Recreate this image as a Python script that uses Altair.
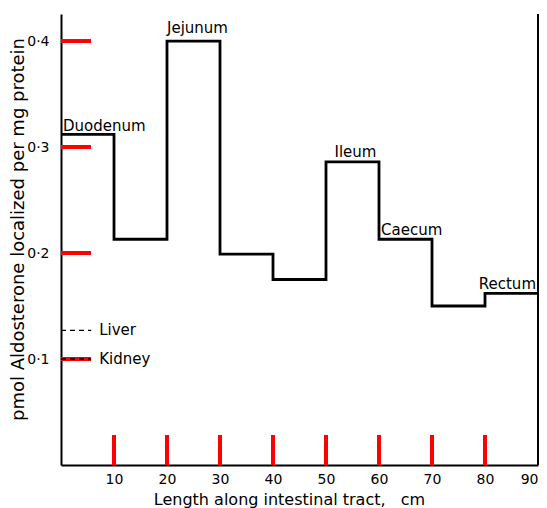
import altair as alt
import pandas as pd

# ---- data ----
segment_start = [0, 10, 20, 30, 40, 50, 60, 70, 80]
segment_end = [10, 20, 30, 40, 50, 60, 70, 80, 90]
segment_value = [0.312, 0.213, 0.400, 0.199, 0.175, 0.286, 0.213, 0.150, 0.162]

label_name = ["Duodenum", "Jejunum", "Ileum", "Caecum", "Rectum"]
label_segment = [0, 2, 5, 6, 8]

reference_name = ["Liver", "Kidney"]
reference_value = [0.127, 0.100]

x_ticks = [10, 20, 30, 40, 50, 60, 70, 80, 90]
y_ticks = [0.1, 0.2, 0.3, 0.4]

# ---- layout / style settings ----
W, H = 477, 451
X_MAX = 90
Y_MAX = 0.4255
FONT = "DejaVu Sans"
NB = "\u00a0"
label_anchor = ["start", "start", "center", "start", "end"]
label_align = ["left", "left", "center", "left", "right"]
label_dx = [2, 0, 3, 2, -2]
label_dy = [-3, -8, -5, -4, -4]
ref_len = 5.7
TICK_PX_Y = 30
TICK_PX_X = 30

step_df = pd.DataFrame({
    "x": segment_start + [segment_end[-1]],
    "y": segment_value + [segment_value[-1]],
})

lab_rows = []
for name, seg, anc, al, dx, dy in zip(label_name, label_segment, label_anchor,
                                      label_align, label_dx, label_dy):
    s, e, v = segment_start[seg], segment_end[seg], segment_value[seg]
    xpos = s if anc == "start" else (e if anc == "end" else (s + e) / 2)
    lab_rows.append({"name": name, "x": xpos, "y": v, "align": al, "dx": dx, "dy": dy})

ref_df = pd.DataFrame({"name": reference_name, "yv": reference_value,
                       "x0": [0.0] * 2, "x1": [ref_len] * 2})
ytick_df = pd.DataFrame({"yv": y_ticks, "x0": [0.0] * 4,
                         "x1": [TICK_PX_Y * X_MAX / W] * 4})
xtick_df = pd.DataFrame({"xv": x_ticks[:-1], "y0": [0.0] * 8,
                         "y1": [TICK_PX_X * Y_MAX / H] * 8})
frame_df = pd.DataFrame({"xv": [X_MAX], "y0": [0.0], "y1": [Y_MAX]})

xs = alt.Scale(domain=[0, X_MAX], nice=False, zero=True)
ys = alt.Scale(domain=[0, Y_MAX], nice=False, zero=True)

X_AXIS = alt.Axis(
    values=x_ticks,
    title="Length along intestinal tract," + NB * 3 + "cm",
    ticks=False, grid=False, labelPadding=7,
    domainColor="black", domainWidth=2, labelFont=FONT, labelFontSize=14,
    labelColor="black", titleFont=FONT, titleFontSize=16,
    titleFontWeight="normal", titleColor="black",
    titleY=39, titleX=228, titleBaseline="alphabetic")
Y_AXIS = alt.Axis(
    values=y_ticks, title="pmol Aldosterone localized per mg protein",
    labelExpr="replace(format(datum.value, '.1f'), '.', '·')",
    ticks=False, grid=False, labelPadding=12, domainColor="black",
    domainWidth=2, labelFont=FONT, labelFontSize=14, labelColor="black",
    titleFont=FONT, titleFontSize=18, titleFontWeight="normal",
    titleColor="black", titleX=-43, titleY=215, titleBaseline="middle")


def X(f):
    return alt.X(f + ":Q", scale=xs, axis=None)


def Y(f):
    return alt.Y(f + ":Q", scale=ys, axis=None)


step = alt.Chart(step_df).mark_line(
    interpolate="step-after", color="black", strokeWidth=2.8, strokeJoin="miter"
).encode(x=alt.X("x:Q", scale=xs, axis=X_AXIS),
         y=alt.Y("y:Q", scale=ys, axis=Y_AXIS))

frame = alt.Chart(frame_df).mark_rule(color="black", strokeWidth=2).encode(
    x=X("xv"), y=Y("y0"), y2="y1:Q")

yt = alt.Chart(ytick_df).mark_rule(color="red", strokeWidth=4).encode(
    x=X("x0"), x2="x1:Q", y=Y("yv"))

xt = alt.Chart(xtick_df).mark_rule(color="red", strokeWidth=4).encode(
    x=X("xv"), y=Y("y0"), y2="y1:Q")

refs = alt.Chart(ref_df).mark_rule(color="black", strokeWidth=1.3,
                                   strokeDash=[5, 4]).encode(
    x=X("x0"), x2="x1:Q", y=Y("yv"))

ref_text = alt.Chart(ref_df).mark_text(
    align="left", baseline="middle", dx=8, font=FONT, fontSize=15, color="black"
).encode(x=X("x1"), y=Y("yv"), text="name:N")

seg_layers = []
for row in lab_rows:
    seg_layers.append(
        alt.Chart(pd.DataFrame([row])).mark_text(
            align=row["align"], baseline="alphabetic", dx=row["dx"], dy=row["dy"],
            font=FONT, fontSize=15, color="black"
        ).encode(x=X("x"), y=Y("y"), text="name:N"))

chart = alt.layer(step, frame, yt, xt, refs, ref_text, *seg_layers).resolve_axis(
    x="independent", y="independent"
).properties(
    width=W, height=H, background="white",
    autosize=alt.AutoSizeParams(type="none"),
    padding={"left": 53, "top": 6, "right": 1, "bottom": 43},
).configure_view(stroke=None)

chart.save("out.html", embed_options={"renderer": "svg", "actions": False})
